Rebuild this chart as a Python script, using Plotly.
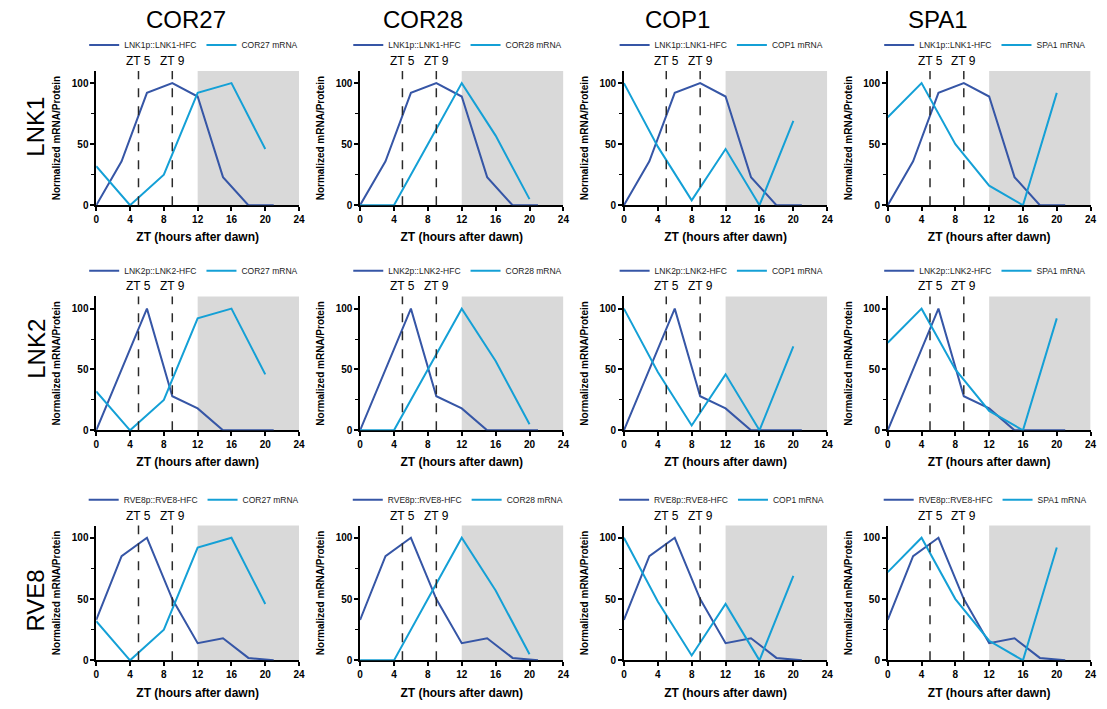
import plotly.graph_objects as go
from plotly.subplots import make_subplots

# ---------------- data ----------------
protein_zt = [0, 3, 6, 9, 12, 15, 18, 21]
mrna_zt = [0, 4, 8, 12, 16, 20]

row_genes = ["LNK1", "LNK2", "RVE8"]
protein_names = ["LNK1p::LNK1-HFC", "LNK2p::LNK2-HFC", "RVE8p::RVE8-HFC"]
LNK1_protein = [0, 36, 92, 100, 89, 23, 0, 0]
LNK2_protein = [0, 50, 100, 28, 18, 0, 0, 0]
RVE8_protein = [33, 85, 100, 50, 14, 18, 2, 0]

col_genes = ["COR27", "COR28", "COP1", "SPA1"]
COR27_mrna = [32, 0, 25, 92, 100, 46]
COR28_mrna = [0, 0, 50, 100, 57, 5]
COP1_mrna = [100, 48, 4, 46, 0, 69]
SPA1_mrna = [72, 100, 50, 16, 0, 92]

x_ticks = [0, 4, 8, 12, 16, 20, 24]
y_ticks = [0, 50, 100]
marker_zt = [5, 9]
dark_start, dark_end = 12, 24

proteins = [LNK1_protein, LNK2_protein, RVE8_protein]
mrnas = [COR27_mrna, COR28_mrna, COP1_mrna, SPA1_mrna]

# ---------------- layout ----------------
W, H = 1107, 709
FONT = "Liberation Sans, Arial, sans-serif"
DARK = "#3656A6"
LIGHT = "#14A0D6"

col_px = [(94, 298.5), (360, 565), (626, 831), (892, 1096.5)]
row_px = [(71.5, 207), (299, 434), (530, 666)]
col_title_x = [185, 423, 680, 943]
row_label_y = [128, 352, 606]

fig = make_subplots(rows=3, cols=4)

for r in range(3):
    for c in range(4):
        n = r * 4 + c + 1
        sfx = "" if n == 1 else str(n)
        leg = "legend" if n == 1 else f"legend{n}"
        fig.add_trace(go.Scatter(x=protein_zt, y=proteins[r], mode="lines",
                                 name=protein_names[r], line=dict(color=DARK, width=2),
                                 legend=leg), row=r + 1, col=c + 1)
        fig.add_trace(go.Scatter(x=mrna_zt, y=mrnas[c], mode="lines",
                                 name=f"{col_genes[c]} mRNA", line=dict(color=LIGHT, width=2),
                                 legend=leg), row=r + 1, col=c + 1)
        # dark period shading
        fig.add_shape(type="rect", xref=f"x{sfx}", yref=f"y{sfx} domain",
                      x0=dark_start, x1=dark_end, y0=0, y1=1,
                      fillcolor="#D9D9D9", line_width=0, layer="below")
        for zt in marker_zt:
            fig.add_shape(type="line", xref=f"x{sfx}", yref=f"y{sfx} domain",
                          x0=zt, x1=zt, y0=0, y1=1,
                          line=dict(color="#2a2a2a", width=1.5, dash="dash"))
            fig.add_annotation(x=zt, y=1, xref=f"x{sfx}", yref=f"y{sfx} domain",
                               text=f"ZT {zt}", showarrow=False, yanchor="bottom",
                               yshift=1, font=dict(family=FONT, size=12, color="black"))
        x0, x1 = col_px[c]
        top, bot = row_px[r]
        fig.layout[f"xaxis{sfx}"].update(
            domain=[x0 / W, x1 / W], range=[0, 24], tickvals=x_ticks,
            showline=True, linecolor="black", linewidth=1.5, ticks="outside",
            ticklen=4, tickwidth=1.5, tickcolor="black", showgrid=False, zeroline=False,
            layer="below traces",
            tickfont=dict(family=FONT, size=10, color="black", weight="bold"),
            title=dict(text="ZT (hours after dawn)", standoff=9,
                       font=dict(family=FONT, size=12, color="black", weight="bold")))
        fig.layout[f"yaxis{sfx}"].update(
            domain=[1 - bot / H, 1 - top / H], range=[0, 110], tickvals=y_ticks,
            showline=True, linecolor="black", linewidth=1.5, ticks="outside",
            ticklen=4, tickwidth=1.5, tickcolor="black", showgrid=False, zeroline=False,
            layer="below traces",
            minor=dict(tickvals=[25, 75], ticks="outside", ticklen=3, tickwidth=1.2,
                       tickcolor="black", showgrid=False),
            tickfont=dict(family=FONT, size=10, color="black", weight="bold"),
            title=dict(text="Normalized mRNA/Protein", standoff=9,
                       font=dict(family=FONT, size=10, color="black", weight="bold")))
        fig.layout[leg] = dict(
            orientation="h", x=((x0 + x1) / 2 - 4) / W, y=1 - (top - 26) / H,
            xanchor="center", yanchor="middle", bgcolor="rgba(0,0,0,0)",
            font=dict(family=FONT, size=8.5, color="#222222"),
            itemwidth=30, tracegroupgap=0)

for c, g in enumerate(col_genes):
    fig.add_annotation(x=col_title_x[c] / W, y=1 - 20 / H, xref="paper", yref="paper",
                       text=g, showarrow=False, xanchor="center", yanchor="middle",
                       font=dict(family=FONT, size=24, color="black"))
for r, g in enumerate(row_genes):
    fig.add_annotation(x=33 / W, y=1 - row_label_y[r] / H, xref="paper", yref="paper",
                       text=g, showarrow=False, textangle=-90, xanchor="center",
                       yanchor="middle", font=dict(family=FONT, size=24, color="black"))

fig.update_layout(width=W, height=H, margin=dict(l=0, r=0, t=0, b=0),
                  plot_bgcolor="white", paper_bgcolor="white", showlegend=True)

fig.write_html("out.html")
